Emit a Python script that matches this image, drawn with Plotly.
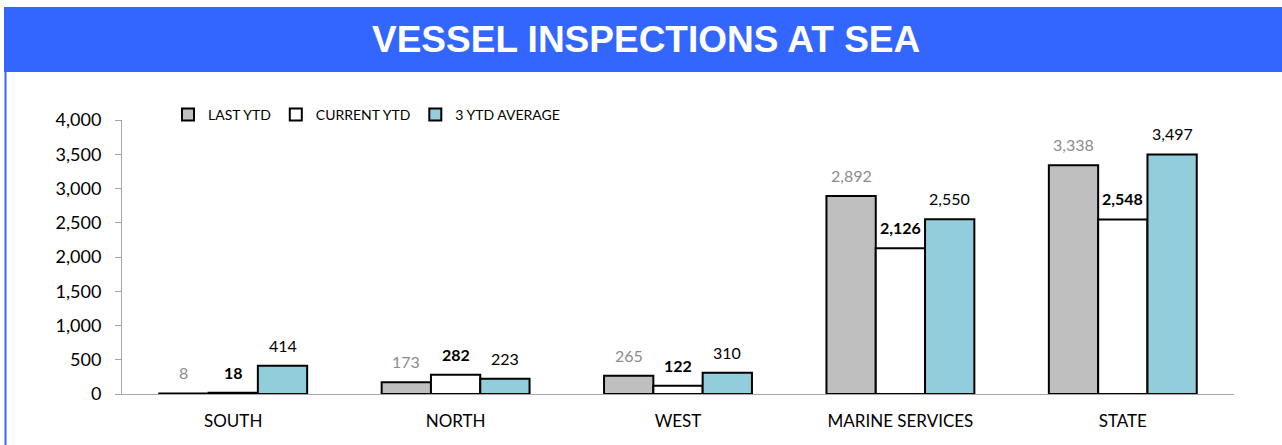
import plotly.graph_objects as go

# Inspection counts by region
regions = ["SOUTH", "NORTH", "WEST", "MARINE SERVICES", "STATE"]
last_ytd = [8, 173, 265, 2892, 3338]
current_ytd = [18, 282, 122, 2126, 2548]
avg_3ytd = [414, 223, 310, 2550, 3497]

W, H = 1282, 445
ML, MR, MT, MB = 122, 48, 120, 51
PW, PH = W - ML - MR, H - MT - MB
BARGAP = 0.335
BAR_W = (1 - BARGAP) / 3


def px_x(px):
    return (px - ML) / PW


def px_y(py):
    return (H - MB - py) / PH


FONT = "Lato, 'Noto Sans', sans-serif"
LINE = dict(color="#000000", width=2)

series = [
    ("LAST YTD", last_ytd, "#bfbfbf", "#8c8c8c", "%s"),
    ("CURRENT YTD", current_ytd, "#ffffff", "#000000", "<b>%s</b>"),
    ("3 YTD AVERAGE", avg_3ytd, "#92cddc", "#000000", "%s"),
]

fig = go.Figure()
for k, (name, vals, fill, label_color, fmt) in enumerate(series):
    fig.add_trace(go.Bar(
        x=regions, y=vals, name=name,
        marker=dict(color=fill, line=LINE),
        cliponaxis=False,
    ))
    # value labels above each bar
    for i, v in enumerate(vals):
        fig.add_annotation(
            x=i + (k - 1) * BAR_W, y=v, xref="x", yref="y",
            text=fmt % f"{v:,}", showarrow=False,
            xanchor="center", yanchor="bottom", yshift=9,
            font=dict(family=FONT, size=16, color=label_color),
        )

# Title banner and left frame edge
fig.add_shape(type="rect", xref="paper", yref="paper",
              x0=px_x(4), x1=px_x(W + 5), y0=px_y(72), y1=px_y(7),
              fillcolor="#3366ff", line=dict(width=0), layer="below")
fig.add_shape(type="line", xref="paper", yref="paper",
              x0=px_x(5.5), x1=px_x(5.5), y0=px_y(72), y1=px_y(H + 5),
              line=dict(color="#3366ff", width=2))
fig.add_annotation(text="<b>VESSEL INSPECTIONS AT SEA</b>",
                   xref="paper", yref="paper",
                   x=px_x(646), y=px_y(40), xanchor="center", yanchor="middle",
                   showarrow=False,
                   font=dict(family="'Liberation Sans', Arial, sans-serif",
                             size=37, color="#ffffff"))

fig.update_layout(
    width=W, height=H,
    margin=dict(l=ML, r=MR, t=MT, b=MB, pad=0),
    paper_bgcolor="#ffffff", plot_bgcolor="#ffffff",
    barmode="group", bargap=BARGAP, bargroupgap=0,
    font=dict(family=FONT, color="#000000"),
    showlegend=True,
    legend=dict(orientation="h", x=px_x(168), y=px_y(99),
                xanchor="left", yanchor="top",
                font=dict(size=14, family=FONT, color="#000000"),
                bgcolor="rgba(0,0,0,0)", itemwidth=30,
                traceorder="normal"),
    xaxis=dict(showline=True, linecolor="#a6a6a6", linewidth=1,
               showgrid=False, ticks="", tickfont=dict(size=17, family=FONT),
               ticklabelstandoff=12, fixedrange=True),
    yaxis=dict(range=[0, 4000], dtick=500, tickformat=",",
               showline=True, linecolor="#a6a6a6", linewidth=1,
               showgrid=False, zeroline=False,
               ticks="outside", ticklen=6, tickcolor="#a6a6a6",
               tickfont=dict(size=18, family=FONT),
               ticklabelstandoff=10, fixedrange=True),
)

fig.write_html("out.html")
